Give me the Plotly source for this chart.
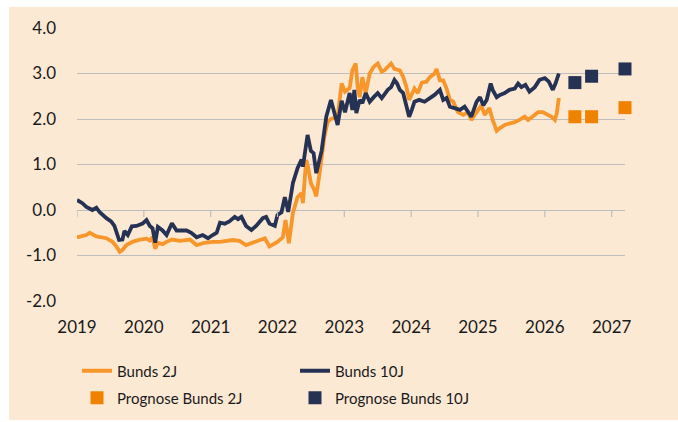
import plotly.graph_objects as go

# ---- data (decimal years) ----
x_2j = [2019.00, 2019.14, 2019.19, 2019.29, 2019.44, 2019.53, 2019.59, 2019.64, 2019.68, 2019.74,
        2019.83, 2019.94, 2020.04, 2020.09, 2020.13, 2020.17, 2020.21, 2020.28, 2020.34, 2020.42,
        2020.54, 2020.69, 2020.79, 2020.91, 2021.03, 2021.14, 2021.33, 2021.43, 2021.53, 2021.68,
        2021.81, 2021.88, 2022.00, 2022.08, 2022.12, 2022.17, 2022.23, 2022.30, 2022.36, 2022.38,
        2022.43, 2022.45, 2022.50, 2022.55, 2022.58, 2022.63, 2022.70, 2022.75, 2022.80, 2022.90,
        2022.96, 2023.01, 2023.08, 2023.12, 2023.17, 2023.20, 2023.23, 2023.27, 2023.32, 2023.38,
        2023.44, 2023.50, 2023.56, 2023.60, 2023.65, 2023.70, 2023.75, 2023.83, 2023.88, 2023.93,
        2023.97, 2024.01, 2024.05, 2024.10, 2024.16, 2024.23, 2024.28, 2024.35, 2024.38, 2024.43,
        2024.48, 2024.53, 2024.58, 2024.63, 2024.70, 2024.78, 2024.85, 2024.90, 2024.98, 2025.05,
        2025.10, 2025.17, 2025.22, 2025.28, 2025.33, 2025.40, 2025.47, 2025.55, 2025.62, 2025.70,
        2025.75, 2025.82, 2025.90, 2025.97, 2026.05, 2026.10, 2026.15, 2026.18, 2026.21]
y_2j = [-0.60, -0.55, -0.50, -0.58, -0.62, -0.70, -0.80, -0.92, -0.88, -0.77,
        -0.70, -0.65, -0.63, -0.67, -0.60, -0.85, -0.72, -0.75, -0.70, -0.65,
        -0.68, -0.65, -0.77, -0.72, -0.70, -0.70, -0.66, -0.68, -0.77, -0.70,
        -0.62, -0.80, -0.70, -0.60, -0.22, -0.73, -0.07, 0.28, 0.37, 0.15,
        1.10, 1.00, 0.59, 0.44, 0.30, 0.81, 1.60, 1.93, 2.00, 2.05,
        2.78, 2.60, 2.68, 3.07, 3.22, 2.70, 2.48, 2.92, 2.57, 3.00,
        3.15, 3.22, 3.04, 3.07, 3.15, 3.22, 3.10, 3.07, 2.93, 2.70,
        2.42, 2.55, 2.67, 2.57, 2.80, 2.82, 2.92, 3.00, 3.10, 2.85,
        2.85, 2.67, 2.42, 2.38, 2.15, 2.09, 2.15, 1.98, 2.15, 2.30,
        2.09, 2.24, 1.98, 1.74, 1.80, 1.87, 1.90, 1.93, 1.98, 2.05,
        1.98, 2.05, 2.15, 2.15, 2.09, 2.05, 1.98, 2.13, 2.46]

x_10j = [2019.00, 2019.08, 2019.14, 2019.23, 2019.29, 2019.34, 2019.44, 2019.51, 2019.56, 2019.63,
         2019.68, 2019.71, 2019.76, 2019.82, 2019.89, 2019.98, 2020.04, 2020.09, 2020.13, 2020.17,
         2020.21, 2020.28, 2020.34, 2020.42, 2020.49, 2020.64, 2020.71, 2020.79, 2020.88, 2020.96,
         2021.03, 2021.09, 2021.14, 2021.21, 2021.28, 2021.36, 2021.41, 2021.46, 2021.53, 2021.61,
         2021.68, 2021.78, 2021.83, 2021.88, 2021.96, 2022.00, 2022.06, 2022.11, 2022.14, 2022.16,
         2022.21, 2022.23, 2022.30, 2022.36, 2022.38, 2022.45, 2022.50, 2022.54, 2022.58, 2022.66,
         2022.73, 2022.80, 2022.86, 2022.90, 2022.96, 2023.01, 2023.08, 2023.12, 2023.15, 2023.18,
         2023.23, 2023.27, 2023.32, 2023.38, 2023.44, 2023.50, 2023.56, 2023.65, 2023.70, 2023.75,
         2023.79, 2023.83, 2023.88, 2023.92, 2023.97, 2024.01, 2024.05, 2024.12, 2024.20, 2024.28,
         2024.35, 2024.43, 2024.48, 2024.53, 2024.58, 2024.65, 2024.73, 2024.80, 2024.85, 2024.90,
         2024.98, 2025.03, 2025.08, 2025.13, 2025.19, 2025.22, 2025.28, 2025.33, 2025.40, 2025.47,
         2025.55, 2025.60, 2025.65, 2025.71, 2025.77, 2025.85, 2025.92, 2026.00, 2026.06, 2026.12,
         2026.16, 2026.21]
y_10j = [0.22, 0.15, 0.07, 0.00, 0.05, -0.05, -0.18, -0.25, -0.35, -0.66,
         -0.65, -0.46, -0.55, -0.36, -0.35, -0.30, -0.22, -0.35, -0.40, -0.72,
         -0.37, -0.45, -0.55, -0.29, -0.45, -0.45, -0.50, -0.60, -0.55, -0.62,
         -0.55, -0.50, -0.28, -0.30, -0.25, -0.15, -0.20, -0.15, -0.35, -0.44,
         -0.35, -0.18, -0.15, -0.30, -0.35, -0.11, -0.05, 0.28, 0.10, -0.04,
         0.40, 0.59, 0.92, 1.11, 0.95, 1.65, 1.30, 1.25, 0.81, 1.30,
         2.05, 2.42, 2.09, 1.87, 2.40, 2.15, 2.57, 2.20, 2.64, 2.13,
         2.42, 2.35, 2.57, 2.38, 2.48, 2.57, 2.46, 2.64, 2.70, 2.86,
         2.78, 2.64, 2.57, 2.35, 2.05, 2.20, 2.38, 2.42, 2.38, 2.46,
         2.53, 2.64, 2.42, 2.46, 2.27, 2.24, 2.20, 2.27, 2.15, 2.05,
         2.38, 2.48, 2.30, 2.42, 2.78, 2.64, 2.48, 2.53, 2.57, 2.64,
         2.67, 2.78, 2.70, 2.75, 2.60, 2.70, 2.86, 2.90, 2.82, 2.64,
         2.78, 3.00]

x_prog = [2026.45, 2026.70, 2027.20]
y_prog_2j = [2.05, 2.05, 2.25]
y_prog_10j = [2.80, 2.94, 3.10]

year_ticks = [2019, 2020, 2021, 2022, 2023, 2024, 2025, 2026, 2027]
y_ticks = [4.0, 3.0, 2.0, 1.0, 0.0, -1.0, -2.0]
y_ticklabels = ["4.0", "3.0", "2.0", "1.0", "0.0", "-1.0", "-2.0"]

ORANGE_LINE = "#F7962A"
ORANGE_MARK = "#EF8300"
NAVY = "#263254"
BEIGE = "#FCE9D4"
GRID = "#BDBDBD"
FONT = "Lato"

fig = go.Figure()
fig.add_trace(go.Scatter(x=x_2j, y=y_2j, mode="lines", name="Bunds 2J",
                         line=dict(color=ORANGE_LINE, width=3.8), legend="legend"))
fig.add_trace(go.Scatter(x=x_10j, y=y_10j, mode="lines", name="Bunds 10J",
                         line=dict(color=NAVY, width=3.8), legend="legend"))
fig.add_trace(go.Scatter(x=x_prog, y=y_prog_2j, mode="markers", name="Prognose Bunds 2J",
                         marker=dict(symbol="square", size=13, color=ORANGE_MARK),
                         legend="legend2", cliponaxis=False))
fig.add_trace(go.Scatter(x=x_prog, y=y_prog_10j, mode="markers", name="Prognose Bunds 10J",
                         marker=dict(symbol="square", size=13, color=NAVY),
                         legend="legend2", cliponaxis=False))

L, R, T, B = 77, 53, 28, 121
W, H = 678, 422
pw, ph = W - L - R, H - T - B

def px_x(p):
    return (p - L) / pw

def px_y(p):
    return (H - B - p) / ph

shapes = [dict(type="rect", xref="paper", yref="paper", x0=px_x(9), x1=px_x(690),
               y0=px_y(420), y1=px_y(7), fillcolor=BEIGE, line=dict(width=0), layer="below")]
for yr in year_ticks:
    shapes.append(dict(type="line", xref="x", yref="y", x0=yr, x1=yr,
                       ysizemode="pixel", yanchor=0, y0=0, y1=-7,
                       line=dict(color=GRID, width=1.2)))

legend_common = dict(orientation="h", xref="container", yref="container", xanchor="left",
                     yanchor="middle", bgcolor="rgba(0,0,0,0)", entrywidth=173,
                     font=dict(size=15), itemwidth=30, tracegroupgap=0)

fig.update_layout(
    width=W, height=H,
    margin=dict(l=L, r=R, t=T, b=B, autoexpand=False),
    paper_bgcolor="white",
    plot_bgcolor=BEIGE,
    font=dict(family=FONT, size=17, color="#1a1a1a"),
    xaxis=dict(range=[2019, 2027.2], tickvals=year_ticks, ticktext=[str(v) for v in year_ticks],
               showgrid=False, zeroline=False, showline=False, ticks="",
               tickfont=dict(size=17), ticklabelstandoff=14, automargin=False),
    yaxis=dict(range=[-2, 4], tickvals=y_ticks, ticktext=y_ticklabels,
               showgrid=True, gridcolor=GRID, gridwidth=1.2, zeroline=False,
               showline=False, ticks="", tickfont=dict(size=17), ticklabelstandoff=20,
               automargin=False),
    shapes=shapes,
    legend=dict(legend_common, x=77 / W, y=1 - 371 / H),
    legend2=dict(legend_common, x=77 / W, y=1 - 398 / H),
    showlegend=True,
)

fig.write_html("out.html", config={"displayModeBar": False},
               post_script="document.body.style.margin='0px';")
